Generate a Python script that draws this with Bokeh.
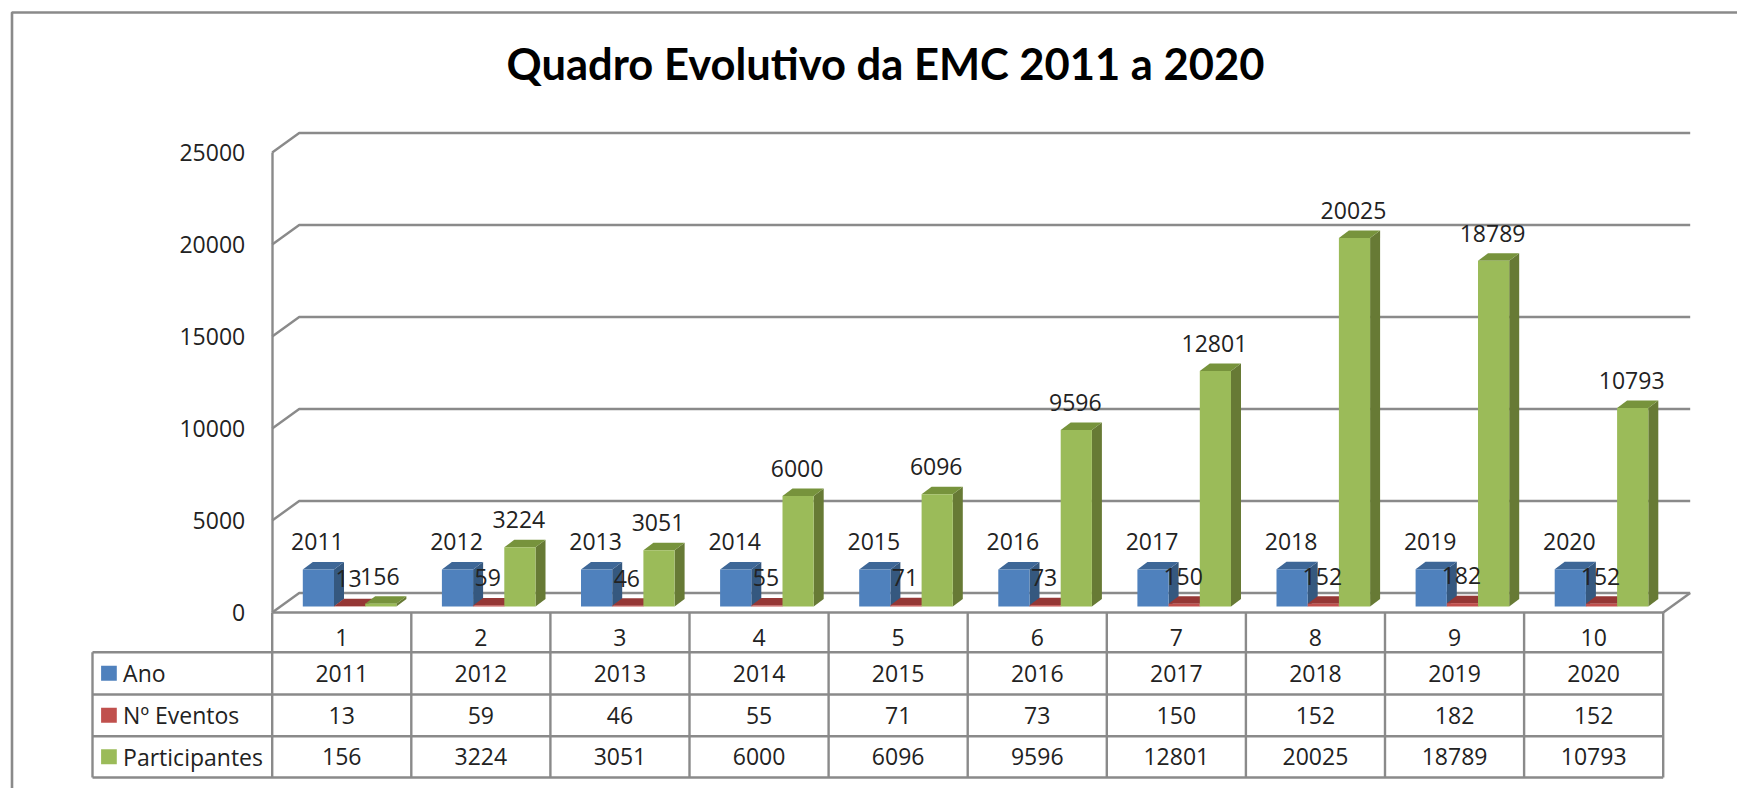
from bokeh.plotting import figure
from bokeh.models import Range1d, FixedTicker
from bokeh.core.properties import value
from bokeh.embed import file_html
from bokeh.resources import INLINE

title = "Quadro Evolutivo da EMC 2011 a 2020"
categorias = [1, 2, 3, 4, 5, 6, 7, 8, 9, 10]
ano = [2011, 2012, 2013, 2014, 2015, 2016, 2017, 2018, 2019, 2020]
eventos = [13, 59, 46, 55, 71, 73, 150, 152, 182, 152]
participantes = [156, 3224, 3051, 6000, 6096, 9596, 12801, 20025, 18789, 10793]
y_ticks = [0, 5000, 10000, 15000, 20000, 25000]
nomes = ["Ano", "Nº Eventos", "Participantes"]

FONT = "Open Sans"
FS = "23px"
TXT = "#222222"
GRID = "#8a8a8a"
LW = 2.4

W, H = 1737, 788
PX_X = 139.1          # pixels per category
PX_Y = 92 / 5000      # pixels per value unit
AX_X, ZERO_Y = 271.7, 612.0   # position of x=0.5, y=0


def xv(px):  # pixel -> data x
    return 0.5 + (px - AX_X) / PX_X


def yv(py):  # pixel -> data y
    return (ZERO_Y - py) / PX_Y


p = figure(width=W, height=H, output_backend="svg", toolbar_location=None,
           x_range=Range1d(xv(0), xv(W)), y_range=Range1d(yv(H), yv(0)),
           min_border=0, outline_line_color=None, background_fill_color="white",
           border_fill_color="white")
p.grid.visible = False

ya = p.yaxis[0]
ya.fixed_location = 0.5
ya.bounds = (0, 25000)
ya.ticker = FixedTicker(ticks=y_ticks)
ya.major_tick_line_color = None
ya.minor_tick_line_color = None
ya.axis_line_color = GRID
ya.axis_line_width = LW
ya.major_label_standoff = 21
ya.major_label_text_font = FONT
ya.major_label_text_font_size = FS
ya.major_label_text_color = TXT

xa = p.xaxis[0]
xa.fixed_location = 0
xa.bounds = (0.5, 10.5)
xa.ticker = FixedTicker(ticks=categorias)
xa.major_tick_line_color = None
xa.minor_tick_line_color = None
xa.axis_line_color = GRID
xa.axis_line_width = LW
xa.major_label_standoff = 10
xa.major_label_text_font = FONT
xa.major_label_text_font_size = FS
xa.major_label_text_color = TXT

# frame of the chart area
fx, fy_top, fy_bot, fx_r = xv(11.5), yv(12), yv(H), xv(W)
p.line([fx, fx, fx_r], [fy_bot, fy_top, fy_top], line_color=GRID, line_width=2.6)

# back wall and floor
DX, DY = 27 / PX_X, 19.5 / PX_Y
gx, gy = [], []
for t in y_ticks:
    gx.append([0.5, 0.5 + DX, 10.5 + DX])
    gy.append([t, t + DY, t + DY])
p.multi_line(gx, gy, line_color=GRID, line_width=LW)
p.line([10.5, 10.5 + DX], [0, DY], line_color=GRID, line_width=LW)

# bars with their faux depth
BW = 31.2 / PX_X
START = 30.6 / PX_X
BASE = 6 / PX_Y
BDX, BDY = 10 / PX_X, 7.5 / PX_Y
series = [
    (ano, "#4f81bd", "#35587f", "#3e6797"),
    (eventos, "#c0504d", "#8c3836", "#953735"),
    (participantes, "#9bbb59", "#677a35", "#77933c"),
]
for s, (vals, front, side, top) in enumerate(series):
    for c, v in zip(categorias, vals):
        x0 = c - 0.5 + START + s * BW
        x1 = x0 + BW
        y0, y1 = BASE, BASE + v
        p.patch([x1, x1 + BDX, x1 + BDX, x1], [y0, y0 + BDY, y1 + BDY, y1],
                fill_color=side, line_color=None)
        p.patch([x0, x1, x1 + BDX, x0 + BDX], [y1, y1, y1 + BDY, y1 + BDY],
                fill_color=top, line_color=None)
        p.quad(left=x0, right=x1, bottom=y0, top=y1, fill_color=front, line_color=None)

# data labels
LAB = 27.5 / PX_Y
lx, ly, lt = [], [], []
for s, (vals, *_) in enumerate(series):
    for c, v in zip(categorias, vals):
        lx.append(c - 0.5 + START + s * BW + BW / 2 - 1 / PX_X)
        ly.append(BASE + v + LAB)
        lt.append(str(v))
p.text(lx, ly, text=lt, text_font=value(FONT), text_font_size=value(FS), text_color=TXT,
       text_align="center", text_baseline="middle")

# data table
rows_py = [651.7, 694, 735.7, 777]
tx0 = xv(92)
p.multi_line([[tx0, 10.5] for _ in rows_py], [[yv(r), yv(r)] for r in rows_py],
             line_color=GRID, line_width=LW)
vx = [tx0] + [c - 0.5 for c in categorias] + [10.5]
p.multi_line([[x, x] for x in vx],
             [[yv(651.7 if i == 0 else 612), yv(777)] for i in range(len(vx))],
             line_color=GRID, line_width=LW)

tab_x, tab_y, tab_t = [], [], []
for r, (vals, *_) in enumerate(series):
    yc = yv((rows_py[r] + rows_py[r + 1]) / 2)
    for c, v in zip(categorias, vals):
        tab_x.append(c)
        tab_y.append(yc)
        tab_t.append(str(v))
    p.quad(left=xv(100.6), right=xv(116.3), bottom=yc - 7.5 / PX_Y, top=yc + 7.5 / PX_Y,
           fill_color=series[r][1], line_color=None)
p.text(tab_x, tab_y, text=tab_t, text_font=value(FONT), text_font_size=value(FS), text_color=TXT,
       text_align="center", text_baseline="middle")
p.text([xv(122.6)] * 3, [yv((rows_py[r] + rows_py[r + 1]) / 2) for r in range(3)], text=nomes,
       text_font=value(FONT), text_font_size=value(FS), text_color=TXT,
       text_align="left", text_baseline="middle")

# title
p.text([xv(885)], [yv(62)], text=[title], text_font=value("Lato"), text_font_size=value("43.5px"),
       text_font_style="bold", text_color="#000000", text_align="center", text_baseline="middle")

open("out.html", "w").write(file_html(p, INLINE))
